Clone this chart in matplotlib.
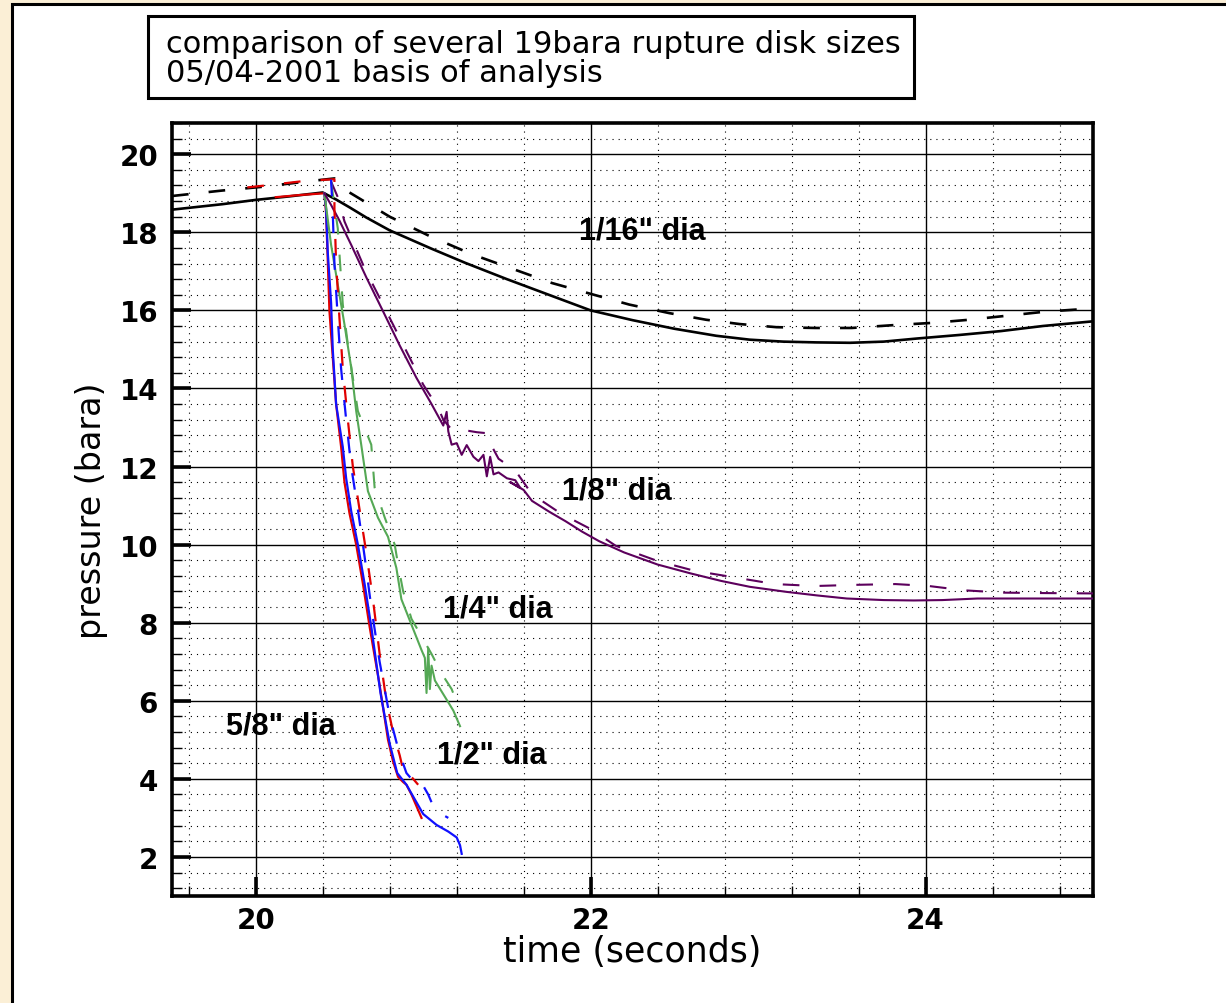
import matplotlib
matplotlib.use("Agg")
import matplotlib.pyplot as plt
from matplotlib.ticker import MultipleLocator
from matplotlib.patches import Rectangle

# 1/16" dia
t_16_meas = [19.5, 19.8, 20.0, 20.2, 20.40, 20.48, 20.56, 20.66, 20.80, 21.05, 21.25, 21.5, 21.75, 22.0,
             22.25, 22.5, 22.75, 22.95, 23.15, 23.35, 23.55, 23.75, 23.95, 24.2, 24.45, 24.7, 25.0]
p_16_meas = [18.58, 18.72, 18.83, 18.92, 19.02, 18.84, 18.64, 18.38, 18.05, 17.58, 17.22, 16.8, 16.4, 16.0,
             15.75, 15.53, 15.35, 15.25, 15.2, 15.18, 15.17, 15.2, 15.28, 15.37, 15.47, 15.6, 15.72]
t_16_sim = [19.5, 19.8, 20.05, 20.3, 20.47, 20.56, 20.8, 21.04, 21.29, 21.53, 21.77, 22.02, 22.23, 22.47,
            22.69, 22.89, 23.11, 23.34, 23.56, 23.8, 24.04, 24.26, 24.5, 24.72, 25.0]
p_16_sim = [18.93, 19.07, 19.17, 19.3, 19.38, 19.02, 18.4, 17.9, 17.44, 17.07, 16.7, 16.4, 16.15, 15.93,
            15.76, 15.65, 15.57, 15.55, 15.55, 15.62, 15.68, 15.76, 15.87, 15.97, 16.05]

# 1/8" dia
t_8_meas = [20.41, 20.45, 20.5, 20.57, 20.66, 20.76, 20.86, 20.96, 21.05, 21.12, 21.14, 21.15, 21.17, 21.2,
            21.23, 21.26, 21.3, 21.33, 21.36, 21.38, 21.4, 21.42, 21.45, 21.5, 21.55, 21.58, 21.52, 21.6,
            21.65, 21.75, 21.85, 21.95, 22.05, 22.2, 22.4, 22.6, 22.78, 22.95, 23.17, 23.35, 23.53, 23.75,
            23.93, 24.1, 24.31, 24.6, 25.0]
p_8_meas = [19.0, 18.7, 18.3, 17.68, 16.85, 15.98, 15.1, 14.27, 13.6, 13.05, 13.4, 12.9, 12.56, 12.6,
            12.3, 12.55, 12.25, 12.14, 12.3, 11.75, 12.25, 11.8, 11.85, 11.7, 11.65, 11.45, 11.6, 11.4,
            11.12, 10.85, 10.6, 10.33, 10.09, 9.8, 9.49, 9.26, 9.07, 8.92, 8.79, 8.7, 8.62, 8.58,
            8.57, 8.58, 8.62, 8.62, 8.62]
t_8_sim = [20.45, 20.49, 20.53, 20.65, 20.76, 20.87, 21.0, 21.09, 21.12, 21.18, 21.25, 21.32, 21.39, 21.4,
           21.45, 21.55, 21.65, 21.8, 21.91, 22.0, 22.15, 22.4, 22.62, 22.86, 23.1, 23.34, 23.58, 23.82,
           24.02, 24.23, 24.47, 24.69, 25.0]
p_8_sim = [19.3, 18.9, 18.28, 17.08, 16.15, 15.21, 14.1, 13.5, 13.2, 12.9, 12.93, 12.88, 12.85, 12.6,
           12.2, 11.9, 11.29, 10.86, 10.6, 10.4, 9.97, 9.58, 9.33, 9.16, 8.99, 8.94, 8.97, 8.99,
           8.94, 8.83, 8.77, 8.76, 8.75]

# 1/4" dia
t_4_meas = [20.41, 20.45, 20.49, 20.53, 20.57, 20.60, 20.63, 20.67, 20.73, 20.79, 20.84, 20.87, 20.93,
            20.99, 21.01, 21.02, 21.03, 21.04, 21.05, 21.07, 21.13, 21.18, 21.22]
p_4_meas = [19.0, 17.68, 16.66, 15.64, 14.54, 13.42, 12.56, 11.37, 10.69, 10.2, 9.4, 8.6, 7.95,
            7.3, 7.1, 6.2, 7.35, 6.3, 6.9, 6.52, 6.1, 5.75, 5.35]
t_4_sim = [20.45, 20.49, 20.52, 20.55, 20.61, 20.69, 20.71, 20.77, 20.83, 20.85, 20.88, 20.93, 20.99,
           21.05, 21.11, 21.17, 21.22]
p_4_sim = [19.3, 18.1, 16.15, 15.13, 13.42, 12.56, 11.46, 10.7, 10.0, 9.49, 8.81, 8.1, 7.65,
           7.2, 6.7, 6.3, 5.75]

# 1/2" dia
t_2_meas = [20.41, 20.42, 20.43, 20.45, 20.46, 20.48, 20.52, 20.54, 20.57, 20.61, 20.65, 20.69, 20.745,
            20.80, 20.845, 20.9, 20.94, 21.0, 21.08, 21.15, 21.2, 21.22, 21.23]
p_2_meas = [19.0, 18.6, 17.5, 16.2, 15.0, 13.6, 12.5, 11.7, 10.86, 10.0, 9.0, 7.9, 6.2,
            4.9, 4.15, 3.85, 3.55, 3.1, 2.82, 2.65, 2.5, 2.3, 2.08]
t_2_sim = [20.45, 20.46, 20.47, 20.49, 20.51, 20.54, 20.57, 20.61, 20.65, 20.69, 20.74, 20.8, 20.855,
           20.9, 20.96, 20.99, 21.03, 21.06, 21.1, 21.15]
p_2_sim = [19.35, 18.5, 17.2, 15.8, 14.5, 13.2, 12.0, 10.9, 9.7, 8.4, 7.0, 5.6, 4.7,
           4.15, 3.85, 3.9, 3.6, 3.3, 3.12, 3.0]

# 5/8" dia
t_58_meas = [20.12, 20.25, 20.41, 20.42, 20.43, 20.44, 20.46, 20.48, 20.51, 20.53, 20.56, 20.6, 20.64,
             20.68, 20.74, 20.79, 20.82, 20.85, 20.88, 20.9, 20.93, 20.96, 20.99]
p_58_meas = [18.9, 18.95, 19.0, 18.5, 17.3, 16.0, 14.8, 13.6, 12.5, 11.6, 10.8, 10.0, 9.0,
             7.9, 6.4, 5.0, 4.45, 4.05, 3.92, 3.85, 3.6, 3.3, 3.0]
t_58_sim = [19.95, 20.1, 20.2, 20.3, 20.47, 20.47, 20.48, 20.5, 20.52, 20.55, 20.58, 20.62, 20.66, 20.7,
            20.74, 20.78, 20.82, 20.86, 20.89, 20.92, 20.95, 20.97]
p_58_sim = [19.15, 19.22, 19.27, 19.32, 19.36, 18.6, 17.2, 15.8, 14.5, 13.2, 12.0, 10.9, 9.8, 8.6,
            7.2, 6.0, 5.2, 4.6, 4.05, 4.1, 3.95, 3.85]

labels = ['1/16" dia', '1/8" dia', '1/4" dia', '5/8" dia', '1/2" dia']
label_t = [21.93, 21.83, 21.12, 19.82, 21.08]
label_p = [18.04, 11.39, 8.37, 5.38, 4.62]

title_lines = ["comparison of several 19bara rupture disk sizes", "05/04-2001 basis of analysis"]

plt.rcParams['lines.scale_dashes'] = False
dash = (0, (12, 14.5))

W, H = 1226, 1004
fig = plt.figure(figsize=(W / 100, H / 100), dpi=100, facecolor="#FBEFD6")

# white panel with black left/top edge
fig.patches.append(Rectangle((12 / W, -0.05), 1.1, 1 - 5 / H + 0.05, transform=fig.transFigure,
                             facecolor="white", edgecolor="black", lw=2.2, zorder=-10))

# title box
fig.patches.append(Rectangle((148 / W, 1 - 99 / H), (914 - 148) / W, (99 - 17) / H, transform=fig.transFigure,
                             facecolor="white", edgecolor="black", lw=2.2, zorder=1))
fig.text(166 / W, 1 - 53 / H, title_lines[0], fontsize=22, family="DejaVu Sans", va="baseline", zorder=2)
fig.text(166 / W, 1 - 82 / H, title_lines[1], fontsize=22, family="DejaVu Sans", va="baseline", zorder=2)

ax = fig.add_axes([172 / W, 1 - 897 / H, (1093 - 172) / W, (897 - 124) / H])
ax.set_facecolor("white")

ax.plot(t_58_meas, p_58_meas, color="#E00000", lw=1.6, zorder=3)
ax.plot(t_2_meas, p_2_meas, color="#1010FF", lw=1.6, zorder=3)
ax.plot(t_4_meas, p_4_meas, color="#55A855", lw=1.5, zorder=3)
ax.plot(t_8_meas, p_8_meas, color="#5C005C", lw=1.5, zorder=3)
ax.plot(t_16_meas, p_16_meas, color="black", lw=1.9, zorder=2)

ax.plot(t_16_sim, p_16_sim, color="black", lw=1.9, ls=dash, zorder=2)
ax.plot(t_8_sim, p_8_sim, color="#5C005C", lw=1.5, ls=dash, zorder=3)
ax.plot(t_4_sim, p_4_sim, color="#55A855", lw=1.5, ls=dash, zorder=3)
ax.plot(t_58_sim, p_58_sim, color="#E00000", lw=1.6, ls=dash, zorder=3)
ax.plot(t_2_sim, p_2_sim, color="#1010FF", lw=1.6, ls=dash, zorder=3)

for txt, x, y in zip(labels, label_t, label_p):
    ax.text(x, y, txt, fontsize=22, fontweight="bold", family="Liberation Sans",
            ha="left", va="center", zorder=4)

ax.set_xlim(19.5, 25.0)
ax.set_ylim(1.0, 20.8)
ax.xaxis.set_major_locator(MultipleLocator(2))
ax.xaxis.set_minor_locator(MultipleLocator(0.4))
ax.yaxis.set_major_locator(MultipleLocator(2))
ax.yaxis.set_minor_locator(MultipleLocator(0.4))

ax.set_axisbelow(True)
ax.grid(which="major", color="black", lw=1.0, ls="-")
ax.grid(which="minor", color="black", lw=0.8, ls=(0, (0.8, 3.6)))

for s in ax.spines.values():
    s.set_linewidth(2.6)
ax.tick_params(which="major", direction="in", length=14, width=2.6, labelsize=20, pad=10,
               top=False, right=False)
ax.tick_params(axis="x", which="major", pad=7)
ax.tick_params(which="minor", direction="in", length=7, width=1.0, top=False, right=False)
for lab in ax.get_xticklabels() + ax.get_yticklabels():
    lab.set_fontweight("bold")
    lab.set_family("DejaVu Sans")

ax.set_xlabel("time (seconds)", fontsize=25, family="DejaVu Sans", labelpad=0)
ax.set_ylabel("pressure (bara)", fontsize=24, family="DejaVu Sans", labelpad=8)

fig.savefig("out.png", dpi=100, facecolor=fig.get_facecolor())
